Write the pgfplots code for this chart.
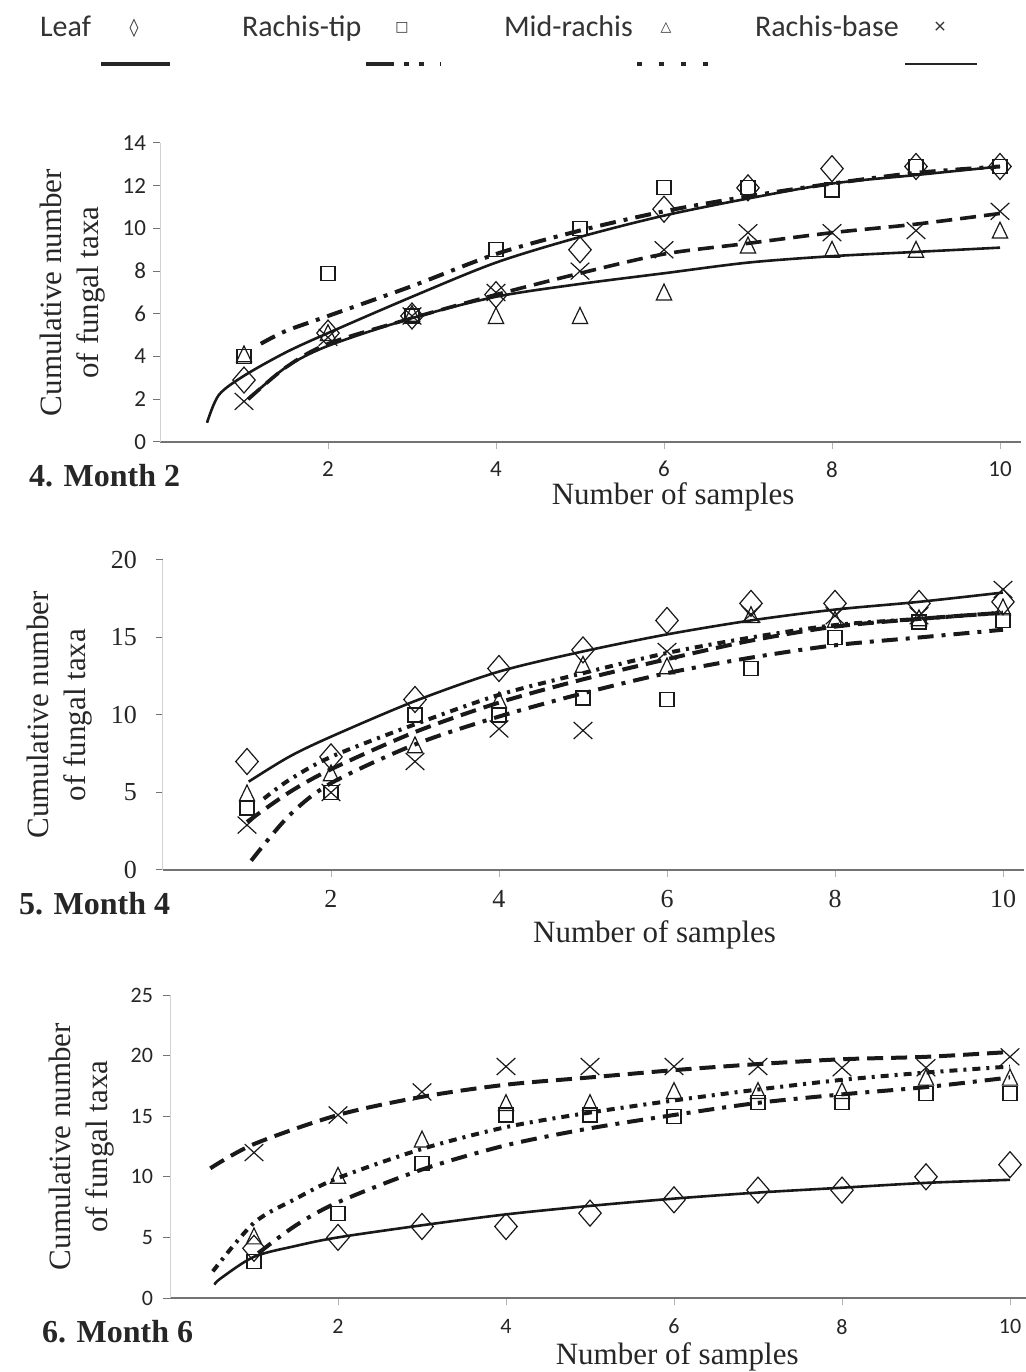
\documentclass[border=0pt]{standalone}
\usepackage{fontspec}
\setmainfont{Liberation Serif}
\newfontfamily\carlito{Carlito}
\newfontfamily\dejavu{DejaVu Sans}
\usepackage{pgfplots}
\usepackage{pgfplotstable}
\pgfplotsset{compat=1.18}

% markers: x, Leaf, Rachis-tip, Mid-rachis, Rachis-base
\pgfplotstableread{
x leaf tip mid base
1 2.9 4.0 4.0 1.9
2 5.1 7.9 5.0 4.9
3 5.9 5.9 5.9 5.9
4 6.9 9.0 5.8 7.0
5 9.0 10.0 5.8 8.0
6 10.9 11.9 6.9 9.0
7 11.9 11.9 9.1 9.8
8 12.8 11.8 8.9 9.8
9 12.9 12.9 8.9 9.9
10 12.9 12.9 9.8 10.8
}\mA
\pgfplotstableread{
x leaf tip mid base
1 7.0 4.0 4.8 2.9
2 7.3 5.0 6.1 5.0
3 11.0 10.0 7.9 7.0
4 13.0 10.0 10.8 9.1
5 14.2 11.1 13.1 9.0
6 16.1 11.0 13.0 14.1
7 17.2 13.0 16.3 16.5
8 17.2 15.0 16.0 16.4
9 17.2 16.0 16.1 16.4
10 17.3 16.1 16.8 18.1
}\mB
\pgfplotstableread{
x leaf tip mid base
1 4.1 3.0 4.9 12.0
2 5.0 7.0 9.9 15.1
3 5.9 11.1 12.9 17.0
4 5.9 15.1 15.9 19.1
5 7.0 15.1 15.9 19.1
6 8.1 15.0 16.9 19.1
7 8.9 16.1 16.9 19.1
8 8.9 16.1 16.9 19.0
9 10.0 16.9 18.0 19.0
10 11.0 16.9 18.0 19.9
}\mC

\pgfplotsset{
  panel/.style={
    scale only axis, width=430.5pt, xmin=0, xmax=10.25, ymin=0,
    axis lines=left, axis line style={-},
    x axis line style={black!55, line width=0.6pt},
    y axis line style={black!18, line width=0.5pt},
    xtick={2,4,6,8,10}, tick align=outside, major tick length=3.5pt,
    ytick style={black!55, line width=0.5pt},
    xtick style={black!30, line width=0.4pt},
    /pgf/number format/assume math mode=true,
    tick label style={text=black!85},
    clip=false,
    anchor=south west,
    ylabel={Cumulative number\\of fungal taxa},
    xlabel={Number of samples},
  },
  leafm/.style={only marks, mark=diamond, mark size=6.5pt,
    mark options={xscale=1.15, line width=0.6pt, draw=black!90, fill=none, solid}},
  tipm/.style={only marks, mark=square, mark size=3.5pt,
    mark options={line width=0.6pt, draw=black!90, fill=none, solid}},
  midm/.style={only marks, mark=triangle, mark size=4.4pt,
    mark options={yscale=1.2, line width=0.6pt, draw=black!90, fill=none, solid}},
  basem/.style={only marks, mark=x, mark size=6pt,
    mark options={xscale=1.1, line width=0.6pt, draw=black!90, solid}},
  crv/.style={no marks, smooth, tension=0.5, draw=black!90},
  leafc/.style={crv, line width=1.3pt, solid},
  tipc/.style={crv, line width=2pt, dash pattern=on 8pt off 4pt on 2pt off 4pt},
  midc/.style={crv, line width=2pt, dash pattern=on 4pt off 3pt on 1.5pt off 3pt},
  basec/.style={crv, line width=2pt, dash pattern=on 8pt off 4pt},
}

\begin{document}
\begin{tikzpicture}[x=1pt,y=1pt]
\useasboundingbox (0,0) rectangle (513,686);

% ---------- legend ----------
\begin{scope}[every node/.style={text=black!80}]
\node[anchor=base west, font=\carlito\fontsize{15}{18}\selectfont] at (16.5,667.5) {Leaf};
\node[font=\dejavu\fontsize{9}{9}\selectfont] at (67,672) {◊};
\node[anchor=base west, font=\carlito\fontsize{15}{18}\selectfont] at (117.5,667.5) {Rachis-tip};
\node[font=\dejavu\fontsize{7}{7}\selectfont] at (201,672) {□};
\node[anchor=base west, font=\carlito\fontsize{15}{18}\selectfont] at (248.5,667.5) {Mid-rachis};
\node[font=\dejavu\fontsize{7}{7}\selectfont] at (333,672) {△};
\node[anchor=base west, font=\carlito\fontsize{15}{18}\selectfont] at (374,667.5) {Rachis-base};
\node[font=\carlito\fontsize{11}{11}\selectfont] at (470,672) {×};
\end{scope}
\draw[black!85, line width=2pt] (50.5,654) -- (85,654);
\draw[black!85, line width=2pt, dash pattern=on 14pt off 5pt on 2.5pt off 5pt on 2.5pt off 8pt] (183,654) -- (220.5,654);
\draw[black!85, line width=2pt, dash pattern=on 2.5pt off 8.5pt] (318.5,654) -- (354,654);
\draw[black!85, line width=1.2pt] (452.5,654) -- (488.5,654);

% ---------- panel 1: Month 2 ----------
\begin{axis}[panel, at={(80pt,465pt)}, height=149.5pt, ymax=14, ytick={0,2,...,14},
  tick label style={font=\carlito\fontsize{11.5}{13}\selectfont},
  xticklabel style={yshift=-2.7pt},
  ylabel style={at={(axis description cs:-0.101,0.5)}, anchor=center, align=center,
    font=\fontsize{15.5}{18.5}\selectfont, text=black!85},
  xlabel style={at={(axis description cs:0.596,0)}, anchor=center, yshift=-27.5pt,
    font=\fontsize{15.5}{18.5}\selectfont, text=black!85}]
\addplot[leafc] coordinates {(0.56,0.9) (0.7,2.2) (1,3.1) (1.5,4.2) (2,5.1) (3,6.8) (4,8.4) (5,9.6) (6,10.6) (7,11.4) (8,12.1) (9,12.5) (10,12.9)};
\addplot[crv, line width=1.3pt, solid] coordinates {(1.05,2.0) (1.5,3.5) (2,4.5) (3,5.8) (4,6.8) (5,7.4) (6,7.9) (7,8.4) (8,8.7) (9,8.9) (10,9.1)};
\addplot[basec, line width=1.8pt] coordinates {(1.05,2.0) (1.5,3.5) (2,4.6) (3,5.8) (4,6.9) (5,7.9) (6,8.8) (7,9.3) (8,9.8) (9,10.2) (10,10.7)};
\addplot[tipc] coordinates {(1.2,4.6) (1.5,5.2) (2,5.9) (3,7.3) (4,8.8) (5,9.9) (6,10.8) (7,11.5) (8,12.1) (9,12.6) (10,12.9)};
\addplot[leafm] table[x=x,y=leaf]{\mA};
\addplot[tipm] table[x=x,y=tip]{\mA};
\addplot[midm] table[x=x,y=mid]{\mA};
\addplot[basem] table[x=x,y=base]{\mA};
\end{axis}

% ---------- panel 2: Month 4 ----------
\begin{axis}[panel, at={(81.5pt,251pt)}, height=155pt, ymax=20, ytick={0,5,...,20},
  tick label style={font=\fontsize{13}{15}\selectfont},
  yticklabel style={xshift=-6pt},
  xticklabel style={yshift=-3pt},
  ylabel style={at={(axis description cs:-0.1196,0.5)}, anchor=center, align=center,
    font=\fontsize{15.5}{18.5}\selectfont, text=black!85},
  xlabel style={at={(axis description cs:0.571,0)}, anchor=center, yshift=-32.5pt,
    font=\fontsize{15.5}{18.5}\selectfont, text=black!85}]
\addplot[leafc] coordinates {(1.02,5.7) (1.5,7.3) (2,8.6) (3,10.9) (4,12.8) (5,14.1) (6,15.2) (7,16.1) (8,16.8) (9,17.3) (10,17.9)};
\addplot[midc] coordinates {(1.2,4.6) (1.5,5.8) (2,7.3) (3,9.4) (4,11.3) (5,12.7) (6,14.0) (7,15.0) (8,15.8) (9,16.2) (10,16.6)};
\addplot[basec] coordinates {(1.0,3.1) (1.5,5.0) (2,6.5) (3,8.9) (4,10.8) (5,12.3) (6,13.6) (7,14.8) (8,15.7) (9,16.2) (10,16.6)};
\addplot[tipc] coordinates {(1.05,0.6) (1.5,3.5) (2,5.6) (3,8.1) (4,9.9) (5,11.4) (6,12.7) (7,13.7) (8,14.5) (9,15.0) (10,15.5)};
\addplot[leafm] table[x=x,y=leaf]{\mB};
\addplot[tipm] table[x=x,y=tip]{\mB};
\addplot[midm] table[x=x,y=mid]{\mB};
\addplot[basem] table[x=x,y=base]{\mB};
\end{axis}

% ---------- panel 3: Month 6 ----------
\begin{axis}[panel, at={(85pt,37pt)}, height=151.5pt, xmax=10.2, width=428.4pt, ymax=25, ytick={0,5,...,25},
  tick label style={font=\carlito\fontsize{11}{13}\selectfont},
  yticklabel style={xshift=-1.5pt},
  xticklabel style={yshift=-3.5pt},
  ylabel style={at={(axis description cs:-0.1027,0.5)}, anchor=center, align=center,
    font=\fontsize{15.5}{18.5}\selectfont, text=black!85},
  xlabel style={at={(axis description cs:0.592,0)}, anchor=center, yshift=-29.5pt,
    font=\fontsize{15.5}{18.5}\selectfont, text=black!85}]
\addplot[leafc] coordinates {(0.53,1.1) (0.6,1.6) (1,3.4) (1.5,4.3) (2,5.0) (3,6.0) (4,6.9) (5,7.6) (6,8.2) (7,8.7) (8,9.1) (9,9.5) (10,9.75)};
\addplot[basec] coordinates {(0.48,10.7) (1,12.7) (2,15.1) (3,16.6) (4,17.6) (5,18.2) (6,18.8) (7,19.3) (8,19.7) (9,19.9) (10,20.3)};
\addplot[midc] coordinates {(0.51,2.2) (1,6.2) (1.5,8.2) (2,9.9) (3,12.3) (4,14.1) (5,15.3) (6,16.3) (7,17.2) (8,18.0) (9,18.6) (10,19.1)};
\addplot[tipc] coordinates {(1.05,3.7) (1.5,6.0) (2,7.9) (3,10.6) (4,12.6) (5,14.0) (6,15.1) (7,16.1) (8,16.8) (9,17.4) (10,18.2)};
\addplot[leafm] table[x=x,y=leaf]{\mC};
\addplot[tipm] table[x=x,y=tip]{\mC};
\addplot[midm] table[x=x,y=mid]{\mC};
\addplot[basem] table[x=x,y=base]{\mC};
\end{axis}

% ---------- panel titles ----------
\node[anchor=base west, font=\bfseries\fontsize{16}{19}\selectfont, text=black!85] at (11,442.5) {4. Month 2};
\node[anchor=base west, font=\bfseries\fontsize{16}{19}\selectfont, text=black!85] at (6,228.5) {5. Month 4};
\node[anchor=base west, font=\bfseries\fontsize{16}{19}\selectfont, text=black!85] at (17.5,14.5) {6. Month 6};
\end{tikzpicture}
\end{document}
